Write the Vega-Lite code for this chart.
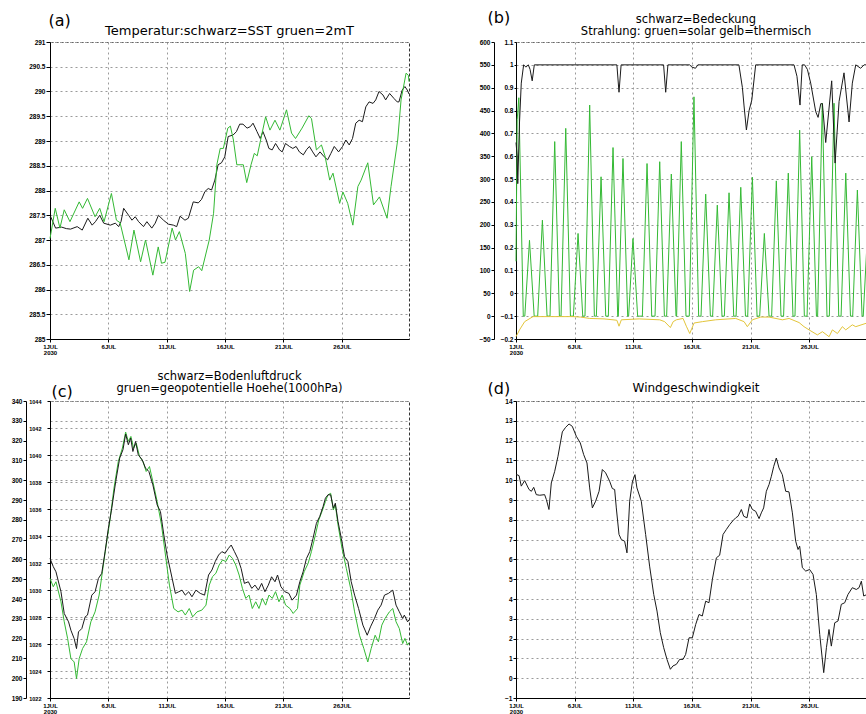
{
"$schema": "https://vega.github.io/schema/vega-lite/v6.json",
"autosize": {"type": "pad"},
"padding": {"left": 10, "top": 8, "right": 0, "bottom": 0},
"background": "white",
"columns": 2,
"bounds": "flush",
"spacing": {"row": 62, "column": 107},
"resolve": {"scale": {"color": "independent"}},
"config": {
  "view": {"stroke": "#333", "strokeDash": [3, 2], "strokeWidth": 1},
  "axis": {"labelFont": "Liberation Sans", "labelFontWeight": "bold", "labelFontSize": 6.5, "labelColor": "#000", "domainColor": "#000", "domainWidth": 1, "tickColor": "#000", "tickSize": 3, "tickWidth": 1, "labelPadding": 1, "gridColor": "#9a9a9a", "gridDash": [2, 3], "gridWidth": 1, "gridOpacity": 1, "titleFont": "DejaVu Sans", "titleFontSize": 16, "titleFontWeight": "normal", "titleColor": "#000", "labelFlush": false, "labelOverlap": false},
  "axisX": {"labelFontSize": 6, "labelLineHeight": 6.5},
  "title": {"font": "DejaVu Sans", "fontWeight": "normal", "color": "#000", "frame": "group", "anchor": "middle", "baseline": "bottom", "offset": 5},
  "line": {"strokeWidth": 1}
},
"datasets": {
"temp": [
{"s":"SST","d":1.0,"v":287.45},{"s":"SST","d":1.06,"v":287.47},{"s":"SST","d":1.48,"v":287.24},{"s":"SST","d":2.0,"v":287.26},{"s":"SST","d":2.4,"v":287.23},{"s":"SST","d":2.76,"v":287.22},{"s":"SST","d":3.33,"v":287.27},{"s":"SST","d":3.76,"v":287.2},{"s":"SST","d":4.24,"v":287.44},{"s":"SST","d":4.61,"v":287.3},{"s":"SST","d":4.89,"v":287.37},{"s":"SST","d":5.26,"v":287.5},{"s":"SST","d":5.6,"v":287.34},{"s":"SST","d":6.17,"v":287.3},{"s":"SST","d":6.6,"v":287.34},{"s":"SST","d":6.88,"v":287.27},{"s":"SST","d":7.08,"v":287.37},{"s":"SST","d":7.31,"v":287.64},{"s":"SST","d":7.73,"v":287.5},{"s":"SST","d":8.02,"v":287.4},{"s":"SST","d":8.3,"v":287.47},{"s":"SST","d":8.59,"v":287.37},{"s":"SST","d":9.01,"v":287.27},{"s":"SST","d":9.3,"v":287.37},{"s":"SST","d":9.72,"v":287.24},{"s":"SST","d":10.01,"v":287.34},{"s":"SST","d":10.29,"v":287.5},{"s":"SST","d":10.72,"v":287.4},{"s":"SST","d":11.14,"v":287.32},{"s":"SST","d":11.57,"v":287.3},{"s":"SST","d":11.85,"v":287.27},{"s":"SST","d":12.14,"v":287.48},{"s":"SST","d":12.56,"v":287.4},{"s":"SST","d":12.85,"v":287.44},{"s":"SST","d":13.27,"v":287.77},{"s":"SST","d":13.7,"v":287.75},{"s":"SST","d":13.98,"v":287.82},{"s":"SST","d":14.27,"v":287.98},{"s":"SST","d":14.55,"v":288.04},{"s":"SST","d":14.84,"v":288.01},{"s":"SST","d":15.12,"v":288.21},{"s":"SST","d":15.4,"v":288.52},{"s":"SST","d":15.69,"v":288.56},{"s":"SST","d":15.97,"v":288.68},{"s":"SST","d":16.26,"v":289.09},{"s":"SST","d":16.68,"v":289.12},{"s":"SST","d":16.97,"v":289.19},{"s":"SST","d":17.25,"v":289.34},{"s":"SST","d":17.53,"v":289.34},{"s":"SST","d":17.88,"v":289.26},{"s":"SST","d":18.16,"v":289.29},{"s":"SST","d":18.39,"v":289.36},{"s":"SST","d":18.73,"v":289.19},{"s":"SST","d":19.01,"v":289.05},{"s":"SST","d":19.24,"v":289.19},{"s":"SST","d":19.52,"v":289.02},{"s":"SST","d":19.75,"v":288.85},{"s":"SST","d":20.03,"v":288.82},{"s":"SST","d":20.32,"v":288.95},{"s":"SST","d":20.66,"v":288.82},{"s":"SST","d":20.89,"v":288.78},{"s":"SST","d":21.17,"v":288.95},{"s":"SST","d":21.51,"v":288.89},{"s":"SST","d":21.8,"v":288.85},{"s":"SST","d":22.08,"v":288.89},{"s":"SST","d":22.36,"v":288.78},{"s":"SST","d":22.7,"v":288.72},{"s":"SST","d":22.99,"v":288.83},{"s":"SST","d":23.22,"v":288.89},{"s":"SST","d":23.5,"v":288.78},{"s":"SST","d":23.78,"v":288.68},{"s":"SST","d":24.13,"v":288.78},{"s":"SST","d":24.49,"v":288.68},{"s":"SST","d":24.78,"v":288.62},{"s":"SST","d":25.06,"v":288.75},{"s":"SST","d":25.35,"v":288.89},{"s":"SST","d":25.72,"v":288.78},{"s":"SST","d":26.06,"v":288.89},{"s":"SST","d":26.34,"v":289.02},{"s":"SST","d":26.63,"v":288.92},{"s":"SST","d":26.91,"v":289.05},{"s":"SST","d":27.19,"v":289.36},{"s":"SST","d":27.48,"v":289.42},{"s":"SST","d":27.76,"v":289.39},{"s":"SST","d":28.05,"v":289.69},{"s":"SST","d":28.33,"v":289.79},{"s":"SST","d":28.67,"v":289.76},{"s":"SST","d":28.9,"v":289.83},{"s":"SST","d":29.18,"v":290.0},{"s":"SST","d":29.52,"v":289.93},{"s":"SST","d":29.75,"v":289.83},{"s":"SST","d":30.09,"v":289.96},{"s":"SST","d":30.46,"v":289.86},{"s":"SST","d":30.74,"v":289.79},{"s":"SST","d":30.89,"v":289.79},{"s":"SST","d":31.17,"v":290.03},{"s":"SST","d":31.4,"v":290.1},{"s":"SST","d":31.6,"v":290.03},{"s":"SST","d":31.75,"v":289.95},
{"s":"2mT","d":1.0,"v":287.03},{"s":"2mT","d":1.45,"v":287.64},{"s":"2mT","d":1.85,"v":287.24},{"s":"2mT","d":2.22,"v":287.61},{"s":"2mT","d":2.71,"v":287.37},{"s":"2mT","d":3.5,"v":287.77},{"s":"2mT","d":3.79,"v":287.64},{"s":"2mT","d":4.21,"v":287.84},{"s":"2mT","d":4.86,"v":287.47},{"s":"2mT","d":5.26,"v":287.64},{"s":"2mT","d":5.63,"v":287.37},{"s":"2mT","d":6.26,"v":287.94},{"s":"2mT","d":6.69,"v":287.4},{"s":"2mT","d":7.0,"v":287.35},{"s":"2mT","d":7.76,"v":286.6},{"s":"2mT","d":8.19,"v":287.2},{"s":"2mT","d":8.76,"v":286.56},{"s":"2mT","d":9.18,"v":287.0},{"s":"2mT","d":9.81,"v":286.29},{"s":"2mT","d":10.27,"v":286.86},{"s":"2mT","d":10.55,"v":286.53},{"s":"2mT","d":10.85,"v":286.55},{"s":"2mT","d":11.46,"v":287.24},{"s":"2mT","d":11.75,"v":287.0},{"s":"2mT","d":12.08,"v":287.17},{"s":"2mT","d":12.59,"v":286.73},{"s":"2mT","d":12.96,"v":285.96},{"s":"2mT","d":13.3,"v":286.39},{"s":"2mT","d":13.73,"v":286.46},{"s":"2mT","d":14.0,"v":286.38},{"s":"2mT","d":14.64,"v":287.0},{"s":"2mT","d":15.01,"v":287.54},{"s":"2mT","d":15.29,"v":288.52},{"s":"2mT","d":15.58,"v":288.85},{"s":"2mT","d":15.85,"v":288.85},{"s":"2mT","d":16.23,"v":289.26},{"s":"2mT","d":16.45,"v":289.3},{"s":"2mT","d":16.71,"v":289.02},{"s":"2mT","d":17.0,"v":288.52},{"s":"2mT","d":17.56,"v":288.52},{"s":"2mT","d":17.85,"v":288.16},{"s":"2mT","d":18.22,"v":288.52},{"s":"2mT","d":18.5,"v":288.75},{"s":"2mT","d":18.75,"v":288.7},{"s":"2mT","d":19.13,"v":289.12},{"s":"2mT","d":19.47,"v":289.49},{"s":"2mT","d":19.84,"v":289.22},{"s":"2mT","d":20.27,"v":289.42},{"s":"2mT","d":20.69,"v":289.22},{"s":"2mT","d":21.26,"v":289.63},{"s":"2mT","d":21.69,"v":289.16},{"s":"2mT","d":22.03,"v":289.05},{"s":"2mT","d":22.59,"v":289.26},{"s":"2mT","d":23.17,"v":289.51},{"s":"2mT","d":23.4,"v":289.45},{"s":"2mT","d":23.82,"v":288.82},{"s":"2mT","d":24.25,"v":288.92},{"s":"2mT","d":24.55,"v":288.7},{"s":"2mT","d":24.96,"v":288.21},{"s":"2mT","d":25.24,"v":288.35},{"s":"2mT","d":25.81,"v":287.74},{"s":"2mT","d":26.09,"v":287.97},{"s":"2mT","d":26.5,"v":287.74},{"s":"2mT","d":26.94,"v":287.3},{"s":"2mT","d":27.37,"v":288.08},{"s":"2mT","d":27.65,"v":288.21},{"s":"2mT","d":28.22,"v":288.56},{"s":"2mT","d":28.71,"v":287.71},{"s":"2mT","d":29.22,"v":287.87},{"s":"2mT","d":29.87,"v":287.44},{"s":"2mT","d":30.21,"v":288.08},{"s":"2mT","d":30.78,"v":289.02},{"s":"2mT","d":31.07,"v":289.83},{"s":"2mT","d":31.5,"v":290.37},{"s":"2mT","d":31.69,"v":290.33},{"s":"2mT","d":31.75,"v":290.2}
],
"cc": [
{"d":1.0,"v":0.66},{"d":1.1,"v":0.6},{"d":1.15,"v":0.48},{"d":1.3,"v":0.75},{"d":1.45,"v":0.92},{"d":1.65,"v":1.0},{"d":1.85,"v":0.99},{"d":2.05,"v":1.0},{"d":2.2,"v":0.98},{"d":2.38,"v":0.93},{"d":2.56,"v":1.0},{"d":9.6,"v":1.0},{"d":9.78,"v":0.88},{"d":9.96,"v":1.0},{"d":13.58,"v":1.0},{"d":13.76,"v":0.88},{"d":13.95,"v":1.0},{"d":15.8,"v":1.0},{"d":16.0,"v":0.99},{"d":16.3,"v":0.985},{"d":16.5,"v":1.0},{"d":20.0,"v":1.0},{"d":20.3,"v":0.9},{"d":20.44,"v":0.82},{"d":20.64,"v":0.715},{"d":20.87,"v":0.8},{"d":21.1,"v":0.846},{"d":21.43,"v":1.0},{"d":24.7,"v":1.0},{"d":24.95,"v":0.95},{"d":25.21,"v":0.824},{"d":25.4,"v":1.0},{"d":25.6,"v":1.0},{"d":25.84,"v":0.98},{"d":26.12,"v":0.92},{"d":26.55,"v":0.795},{"d":26.75,"v":0.77},{"d":26.98,"v":0.83},{"d":27.12,"v":0.83},{"d":27.4,"v":0.66},{"d":27.91,"v":0.93},{"d":28.2,"v":0.57},{"d":28.54,"v":0.84},{"d":28.96,"v":0.965},{"d":29.39,"v":0.75},{"d":29.67,"v":0.92},{"d":29.96,"v":1.0},{"d":30.38,"v":0.985},{"d":30.67,"v":1.0},{"d":30.92,"v":1.0}
],
"rad": [
{"s":"solar","d":1.0,"v":120},{"s":"solar","d":1.1,"v":430},{"s":"solar","d":1.24,"v":478},{"s":"solar","d":1.62,"v":0},{"s":"solar","d":1.75,"v":0},{"s":"solar","d":2.15,"v":166},{"s":"solar","d":2.55,"v":0},{"s":"solar","d":2.85,"v":0},{"s":"solar","d":3.25,"v":210},{"s":"solar","d":3.65,"v":0},{"s":"solar","d":3.9,"v":0},{"s":"solar","d":4.3,"v":382},{"s":"solar","d":4.7,"v":0},{"s":"solar","d":4.84,"v":0},{"s":"solar","d":5.24,"v":411},{"s":"solar","d":5.64,"v":0},{"s":"solar","d":5.89,"v":0},{"s":"solar","d":6.29,"v":181},{"s":"solar","d":6.69,"v":0},{"s":"solar","d":6.88,"v":0},{"s":"solar","d":7.28,"v":462},{"s":"solar","d":7.68,"v":0},{"s":"solar","d":7.85,"v":0},{"s":"solar","d":8.25,"v":305},{"s":"solar","d":8.65,"v":0},{"s":"solar","d":8.87,"v":0},{"s":"solar","d":9.27,"v":369},{"s":"solar","d":9.67,"v":0},{"s":"solar","d":9.72,"v":0},{"s":"solar","d":10.12,"v":345},{"s":"solar","d":10.52,"v":0},{"s":"solar","d":10.6,"v":0},{"s":"solar","d":10.97,"v":170},{"s":"solar","d":11.37,"v":0},{"s":"solar","d":11.77,"v":0},{"s":"solar","d":12.17,"v":334},{"s":"solar","d":12.57,"v":0},{"s":"solar","d":12.85,"v":0},{"s":"solar","d":13.25,"v":338},{"s":"solar","d":13.65,"v":0},{"s":"solar","d":13.84,"v":0},{"s":"solar","d":14.24,"v":311},{"s":"solar","d":14.64,"v":0},{"s":"solar","d":14.69,"v":0},{"s":"solar","d":15.09,"v":382},{"s":"solar","d":15.49,"v":0},{"s":"solar","d":15.77,"v":0},{"s":"solar","d":16.17,"v":480},{"s":"solar","d":16.57,"v":0},{"s":"solar","d":16.77,"v":0},{"s":"solar","d":17.17,"v":267},{"s":"solar","d":17.57,"v":0},{"s":"solar","d":17.76,"v":0},{"s":"solar","d":18.16,"v":243},{"s":"solar","d":18.56,"v":0},{"s":"solar","d":18.76,"v":0},{"s":"solar","d":19.16,"v":270},{"s":"solar","d":19.56,"v":0},{"s":"solar","d":19.76,"v":0},{"s":"solar","d":20.16,"v":282},{"s":"solar","d":20.56,"v":0},{"s":"solar","d":20.75,"v":0},{"s":"solar","d":21.15,"v":304},{"s":"solar","d":21.55,"v":0},{"s":"solar","d":21.77,"v":0},{"s":"solar","d":22.17,"v":181},{"s":"solar","d":22.57,"v":0},{"s":"solar","d":22.79,"v":0},{"s":"solar","d":23.19,"v":296},{"s":"solar","d":23.59,"v":0},{"s":"solar","d":23.81,"v":0},{"s":"solar","d":24.21,"v":313},{"s":"solar","d":24.61,"v":0},{"s":"solar","d":24.78,"v":0},{"s":"solar","d":25.18,"v":407},{"s":"solar","d":25.58,"v":0},{"s":"solar","d":25.81,"v":0},{"s":"solar","d":26.21,"v":349},{"s":"solar","d":26.61,"v":0},{"s":"solar","d":26.71,"v":0},{"s":"solar","d":27.11,"v":466},{"s":"solar","d":27.51,"v":0},{"s":"solar","d":27.71,"v":0},{"s":"solar","d":28.11,"v":466},{"s":"solar","d":28.51,"v":0},{"s":"solar","d":28.71,"v":0},{"s":"solar","d":29.11,"v":313},{"s":"solar","d":29.51,"v":0},{"s":"solar","d":29.7,"v":0},{"s":"solar","d":30.1,"v":276},{"s":"solar","d":30.5,"v":0},{"s":"solar","d":30.6,"v":0},{"s":"solar","d":30.92,"v":160},
{"s":"thermisch","d":1.0,"v":-45},{"s":"thermisch","d":1.3,"v":-30},{"s":"thermisch","d":1.74,"v":-12},{"s":"thermisch","d":2.45,"v":-1},{"s":"thermisch","d":5.86,"v":-1},{"s":"thermisch","d":6.5,"v":-2},{"s":"thermisch","d":7.28,"v":-5},{"s":"thermisch","d":8.5,"v":-6},{"s":"thermisch","d":9.27,"v":-8},{"s":"thermisch","d":9.6,"v":-9},{"s":"thermisch","d":9.78,"v":-22},{"s":"thermisch","d":9.98,"v":-8},{"s":"thermisch","d":11.5,"v":-6},{"s":"thermisch","d":13.25,"v":-8},{"s":"thermisch","d":13.67,"v":-12},{"s":"thermisch","d":14.16,"v":-25},{"s":"thermisch","d":14.4,"v":-12},{"s":"thermisch","d":14.67,"v":-8},{"s":"thermisch","d":15.24,"v":-5},{"s":"thermisch","d":15.52,"v":-22},{"s":"thermisch","d":15.81,"v":-38},{"s":"thermisch","d":16.18,"v":-15},{"s":"thermisch","d":16.89,"v":-12},{"s":"thermisch","d":18.02,"v":-8},{"s":"thermisch","d":19.73,"v":-5},{"s":"thermisch","d":20.44,"v":-12},{"s":"thermisch","d":20.72,"v":-23},{"s":"thermisch","d":21.15,"v":-8},{"s":"thermisch","d":21.86,"v":-2},{"s":"thermisch","d":22.57,"v":-2},{"s":"thermisch","d":23.71,"v":-8},{"s":"thermisch","d":24.28,"v":-5},{"s":"thermisch","d":25.13,"v":-14},{"s":"thermisch","d":25.55,"v":-23},{"s":"thermisch","d":25.98,"v":-30},{"s":"thermisch","d":26.69,"v":-41},{"s":"thermisch","d":27.12,"v":-34},{"s":"thermisch","d":27.69,"v":-45},{"s":"thermisch","d":27.97,"v":-30},{"s":"thermisch","d":28.4,"v":-38},{"s":"thermisch","d":28.82,"v":-23},{"s":"thermisch","d":29.11,"v":-30},{"s":"thermisch","d":29.67,"v":-19},{"s":"thermisch","d":29.96,"v":-23},{"s":"thermisch","d":30.92,"v":-15}
],
"slp": [
{"d":1.0,"v":1032.34},{"d":1.28,"v":1031.73},{"d":1.51,"v":1031.35},{"d":1.94,"v":1029.87},{"d":2.22,"v":1028.26},{"d":2.59,"v":1027.64},{"d":2.79,"v":1027.02},{"d":3.07,"v":1026.4},{"d":3.27,"v":1025.66},{"d":3.44,"v":1026.9},{"d":3.73,"v":1027.15},{"d":4.01,"v":1028.01},{"d":4.21,"v":1028.14},{"d":4.58,"v":1029.62},{"d":4.86,"v":1029.87},{"d":5.15,"v":1030.86},{"d":5.43,"v":1031.23},{"d":5.72,"v":1032.84},{"d":6.0,"v":1034.57},{"d":6.29,"v":1036.06},{"d":6.63,"v":1038.04},{"d":6.97,"v":1039.77},{"d":7.25,"v":1040.39},{"d":7.48,"v":1041.55},{"d":7.71,"v":1040.76},{"d":7.91,"v":1041.25},{"d":8.1,"v":1040.26},{"d":8.33,"v":1041.0},{"d":8.56,"v":1040.02},{"d":8.9,"v":1039.64},{"d":9.18,"v":1039.03},{"d":9.47,"v":1038.78},{"d":9.81,"v":1037.79},{"d":10.18,"v":1036.3},{"d":10.46,"v":1035.81},{"d":10.75,"v":1034.08},{"d":11.03,"v":1032.59},{"d":11.4,"v":1031.11},{"d":11.74,"v":1029.75},{"d":12.03,"v":1029.87},{"d":12.31,"v":1029.99},{"d":12.59,"v":1029.62},{"d":12.88,"v":1029.87},{"d":13.16,"v":1029.5},{"d":13.5,"v":1029.99},{"d":13.87,"v":1029.75},{"d":14.24,"v":1029.62},{"d":14.58,"v":1031.11},{"d":14.87,"v":1031.48},{"d":15.15,"v":1032.1},{"d":15.44,"v":1032.59},{"d":15.72,"v":1032.84},{"d":16.0,"v":1032.72},{"d":16.29,"v":1033.09},{"d":16.52,"v":1033.33},{"d":16.8,"v":1032.84},{"d":17.08,"v":1032.34},{"d":17.37,"v":1031.6},{"d":17.65,"v":1030.49},{"d":17.99,"v":1030.61},{"d":18.28,"v":1030.12},{"d":18.56,"v":1030.36},{"d":18.85,"v":1029.99},{"d":19.13,"v":1030.49},{"d":19.41,"v":1029.87},{"d":19.7,"v":1030.36},{"d":19.98,"v":1030.98},{"d":20.27,"v":1030.61},{"d":20.49,"v":1031.11},{"d":20.78,"v":1030.24},{"d":21.12,"v":1029.87},{"d":21.46,"v":1029.75},{"d":21.74,"v":1029.25},{"d":22.11,"v":1029.62},{"d":22.4,"v":1030.61},{"d":22.68,"v":1031.35},{"d":22.97,"v":1032.34},{"d":23.25,"v":1032.84},{"d":23.53,"v":1033.83},{"d":23.82,"v":1034.94},{"d":24.1,"v":1035.44},{"d":24.39,"v":1036.18},{"d":24.59,"v":1036.8},{"d":24.81,"v":1037.05},{"d":25.04,"v":1037.05},{"d":25.27,"v":1036.06},{"d":25.44,"v":1036.43},{"d":25.67,"v":1035.07},{"d":25.95,"v":1033.83},{"d":26.23,"v":1032.47},{"d":26.52,"v":1032.1},{"d":26.8,"v":1030.61},{"d":27.09,"v":1029.62},{"d":27.43,"v":1028.63},{"d":27.8,"v":1027.4},{"d":28.17,"v":1026.65},{"d":28.45,"v":1027.27},{"d":28.79,"v":1027.89},{"d":29.08,"v":1028.51},{"d":29.36,"v":1028.88},{"d":29.65,"v":1029.62},{"d":29.99,"v":1029.75},{"d":30.36,"v":1029.99},{"d":30.64,"v":1028.88},{"d":30.92,"v":1028.39},{"d":31.21,"v":1027.89},{"d":31.35,"v":1028.14},{"d":31.63,"v":1027.64},{"d":31.75,"v":1027.8}
],
"z1000": [
{"d":1.0,"v":250.4},{"d":1.28,"v":246.2},{"d":1.51,"v":248.7},{"d":1.94,"v":238.6},{"d":2.22,"v":228.5},{"d":2.51,"v":220.0},{"d":2.79,"v":209.9},{"d":3.07,"v":208.2},{"d":3.27,"v":199.8},{"d":3.5,"v":209.9},{"d":3.79,"v":215.0},{"d":4.13,"v":218.4},{"d":4.5,"v":228.5},{"d":4.86,"v":233.5},{"d":5.21,"v":242.0},{"d":5.49,"v":253.8},{"d":5.77,"v":265.6},{"d":6.12,"v":279.1},{"d":6.48,"v":296.0},{"d":6.85,"v":309.5},{"d":7.2,"v":316.2},{"d":7.48,"v":324.3},{"d":7.71,"v":319.6},{"d":7.93,"v":322.1},{"d":8.16,"v":316.2},{"d":8.39,"v":318.7},{"d":8.67,"v":312.0},{"d":8.96,"v":309.5},{"d":9.24,"v":304.4},{"d":9.52,"v":306.9},{"d":9.81,"v":299.3},{"d":10.18,"v":289.2},{"d":10.55,"v":277.4},{"d":10.89,"v":262.2},{"d":11.23,"v":247.0},{"d":11.6,"v":235.2},{"d":11.97,"v":233.5},{"d":12.31,"v":234.4},{"d":12.59,"v":231.9},{"d":12.93,"v":235.2},{"d":13.22,"v":231.0},{"d":13.59,"v":233.5},{"d":14.01,"v":234.4},{"d":14.36,"v":236.9},{"d":14.64,"v":247.0},{"d":14.92,"v":251.3},{"d":15.21,"v":253.0},{"d":15.49,"v":257.2},{"d":15.78,"v":259.7},{"d":16.06,"v":258.9},{"d":16.35,"v":262.2},{"d":16.63,"v":260.5},{"d":16.91,"v":257.2},{"d":17.2,"v":252.1},{"d":17.48,"v":245.4},{"d":17.77,"v":240.3},{"d":18.05,"v":242.0},{"d":18.33,"v":235.2},{"d":18.62,"v":238.6},{"d":18.9,"v":235.2},{"d":19.19,"v":240.3},{"d":19.47,"v":236.9},{"d":19.76,"v":242.0},{"d":20.04,"v":240.3},{"d":20.32,"v":243.7},{"d":20.61,"v":238.6},{"d":20.89,"v":242.0},{"d":21.18,"v":236.9},{"d":21.55,"v":235.2},{"d":21.83,"v":232.7},{"d":22.2,"v":235.2},{"d":22.4,"v":247.0},{"d":22.77,"v":253.8},{"d":23.11,"v":258.0},{"d":23.39,"v":263.9},{"d":23.73,"v":272.3},{"d":24.02,"v":279.9},{"d":24.3,"v":284.2},{"d":24.59,"v":289.2},{"d":24.81,"v":292.6},{"d":25.04,"v":293.4},{"d":25.27,"v":285.0},{"d":25.44,"v":287.5},{"d":25.67,"v":277.4},{"d":26.01,"v":265.6},{"d":26.38,"v":255.5},{"d":26.75,"v":245.4},{"d":27.09,"v":233.5},{"d":27.51,"v":221.7},{"d":27.88,"v":215.0},{"d":28.22,"v":208.2},{"d":28.51,"v":215.0},{"d":28.85,"v":221.7},{"d":29.13,"v":218.4},{"d":29.42,"v":226.8},{"d":29.7,"v":230.2},{"d":30.07,"v":233.5},{"d":30.36,"v":235.2},{"d":30.64,"v":228.5},{"d":30.92,"v":225.1},{"d":31.21,"v":217.5},{"d":31.4,"v":220.1},{"d":31.63,"v":216.7},{"d":31.75,"v":218.0}
],
"wind": [
{"d":1.0,"v":10.3},{"d":1.26,"v":10.23},{"d":1.45,"v":9.7},{"d":1.74,"v":9.98},{"d":2.11,"v":9.53},{"d":2.31,"v":9.44},{"d":2.51,"v":9.64},{"d":2.73,"v":9.27},{"d":3.02,"v":9.24},{"d":3.44,"v":9.27},{"d":3.59,"v":9.02},{"d":3.81,"v":8.52},{"d":4.01,"v":9.86},{"d":4.3,"v":10.45},{"d":4.58,"v":11.21},{"d":4.95,"v":12.44},{"d":5.23,"v":12.67},{"d":5.52,"v":12.84},{"d":5.8,"v":12.72},{"d":6.14,"v":12.22},{"d":6.48,"v":11.88},{"d":6.77,"v":11.29},{"d":7.05,"v":10.87},{"d":7.28,"v":9.61},{"d":7.51,"v":8.6},{"d":7.79,"v":8.94},{"d":8.08,"v":9.44},{"d":8.36,"v":10.54},{"d":8.64,"v":10.37},{"d":8.98,"v":9.95},{"d":9.21,"v":9.58},{"d":9.41,"v":9.53},{"d":9.55,"v":8.6},{"d":9.78,"v":7.26},{"d":9.98,"v":7.0},{"d":10.26,"v":6.92},{"d":10.46,"v":6.33},{"d":10.69,"v":8.94},{"d":10.92,"v":9.91},{"d":11.14,"v":10.28},{"d":11.31,"v":9.61},{"d":11.68,"v":8.94},{"d":12.05,"v":7.26},{"d":12.39,"v":5.66},{"d":12.74,"v":4.23},{"d":13.02,"v":3.39},{"d":13.3,"v":2.3},{"d":13.59,"v":1.54},{"d":13.87,"v":0.95},{"d":14.16,"v":0.45},{"d":14.38,"v":0.62},{"d":14.67,"v":0.7},{"d":14.95,"v":0.95},{"d":15.24,"v":0.95},{"d":15.46,"v":1.2},{"d":15.75,"v":2.04},{"d":16.03,"v":2.04},{"d":16.32,"v":2.72},{"d":16.6,"v":3.22},{"d":16.88,"v":3.14},{"d":17.17,"v":3.89},{"d":17.45,"v":3.81},{"d":17.74,"v":4.99},{"d":18.08,"v":6.08},{"d":18.36,"v":6.21},{"d":18.65,"v":7.26},{"d":18.93,"v":7.51},{"d":19.22,"v":7.76},{"d":19.5,"v":7.96},{"d":19.73,"v":8.1},{"d":19.93,"v":8.18},{"d":20.21,"v":8.52},{"d":20.41,"v":8.18},{"d":20.69,"v":8.1},{"d":20.92,"v":8.8},{"d":21.15,"v":8.52},{"d":21.43,"v":8.43},{"d":21.72,"v":8.06},{"d":21.91,"v":8.35},{"d":22.11,"v":8.6},{"d":22.34,"v":9.44},{"d":22.57,"v":9.78},{"d":22.77,"v":10.2},{"d":22.97,"v":10.7},{"d":23.19,"v":11.12},{"d":23.42,"v":10.62},{"d":23.7,"v":10.28},{"d":23.99,"v":9.44},{"d":24.27,"v":9.41},{"d":24.56,"v":8.35},{"d":24.84,"v":6.92},{"d":25.04,"v":6.5},{"d":25.18,"v":6.67},{"d":25.41,"v":5.58},{"d":25.7,"v":5.41},{"d":26.03,"v":5.49},{"d":26.32,"v":5.24},{"d":26.6,"v":4.23},{"d":26.89,"v":2.21},{"d":27.23,"v":0.28},{"d":27.46,"v":1.54},{"d":27.68,"v":2.46},{"d":27.88,"v":1.62},{"d":28.17,"v":2.8},{"d":28.45,"v":2.89},{"d":28.73,"v":3.73},{"d":29.02,"v":3.81},{"d":29.3,"v":4.23},{"d":29.67,"v":4.57},{"d":30.01,"v":4.48},{"d":30.24,"v":4.57},{"d":30.44,"v":4.9},{"d":30.64,"v":4.15},{"d":30.92,"v":4.23}
]
},
"concat": [
{
  "width": 359, "height": 297,
  "title": {"text": "Temperatur:schwarz=SST gruen=2mT", "fontSize": 13, "dy": 31},
  "data": {"name": "temp"},
  "mark": {"type": "line", "strokeWidth": 1},
  "encoding": {
    "x": {"field": "d", "type": "quantitative", "scale": {"domain": [1, 31.75], "nice": false, "zero": false}, "axis": {"title": null, "values": [1, 6, 11, 16, 21, 26], "labelExpr": "datum.value == 1 ? ['1JUL', '2030'] : datum.value + 'JUL'", "grid": true}},
    "y": {"field": "v", "type": "quantitative", "scale": {"domain": [285, 291], "nice": false, "zero": false}, "axis": {"title": "(a)", "titleAngle": 0, "titleAlign": "left", "titleBaseline": "alphabetic", "titleX": -2, "titleY": -17, "values": [285, 285.5, 286, 286.5, 287, 287.5, 288, 288.5, 289, 289.5, 290, 290.5, 291], "format": "~g", "grid": true, "tickSize": 4}},
    "color": {"field": "s", "type": "nominal", "scale": {"domain": ["SST", "2mT"], "range": ["#1a1a1a", "#34b934"]}, "legend": null}
  }
},
{
  "width": 351, "height": 297,
  "title": {"text": ["schwarz=Bedeckung", "Strahlung: gruen=solar gelb=thermisch"], "fontSize": 11.5, "lineHeight": 12, "dx": 4.5, "dy": 33},
  "layer": [
    {
      "data": {"name": "rad"},
      "mark": {"type": "line", "strokeWidth": 1},
      "encoding": {
        "x": {"field": "d", "type": "quantitative", "scale": {"domain": [1, 30.92], "nice": false, "zero": false}, "axis": {"title": null, "values": [1, 6, 11, 16, 21, 26], "labelExpr": "datum.value == 1 ? ['1JUL', '2030'] : datum.value + 'JUL'", "grid": true}},
        "y": {"field": "v", "type": "quantitative", "scale": {"domain": [-50, 600], "nice": false, "zero": false}, "axis": {"title": null, "orient": "left", "offset": 22, "values": [-50, 0, 50, 100, 150, 200, 250, 300, 350, 400, 450, 500, 550, 600], "grid": false}},
        "color": {"field": "s", "type": "nominal", "scale": {"domain": ["solar", "thermisch"], "range": ["#34b934", "#e3c53a"]}, "legend": null}
      }
    },
    {
      "data": {"name": "cc"},
      "mark": {"type": "line", "strokeWidth": 1, "color": "#1a1a1a"},
      "encoding": {
        "x": {"field": "d", "type": "quantitative", "scale": {"domain": [1, 30.92], "nice": false, "zero": false}, "axis": {"title": null, "values": [1, 6, 11, 16, 21, 26], "labelExpr": "datum.value == 1 ? ['1JUL', '2030'] : datum.value + 'JUL'", "grid": true}},
        "y": {"field": "v", "type": "quantitative", "scale": {"domain": [-0.2, 1.1], "nice": false, "zero": false}, "axis": {"title": "(b)", "orient": "left", "titleAngle": 0, "titleAlign": "left", "titleBaseline": "alphabetic", "titleX": -29, "titleY": -20, "values": [-0.2, -0.1, 0, 0.1, 0.2, 0.3, 0.4, 0.5, 0.6, 0.7, 0.8, 0.9, 1, 1.1], "format": "~g", "grid": true, "tickSize": 2}}
      }
    }
  ],
  "resolve": {"scale": {"y": "independent"}}
},
{
  "width": 359, "height": 297,
  "title": {"text": ["schwarz=Bodenluftdruck", "gruen=geopotentielle Hoehe(1000hPa)"], "fontSize": 11.5, "lineHeight": 12, "dy": 16.5},
  "layer": [
    {
      "data": {"name": "z1000"},
      "mark": {"type": "line", "strokeWidth": 1, "color": "#34b934"},
      "encoding": {
        "x": {"field": "d", "type": "quantitative", "scale": {"domain": [1, 31.75], "nice": false, "zero": false}, "axis": {"title": null, "values": [1, 6, 11, 16, 21, 26], "labelExpr": "datum.value == 1 ? ['1JUL', '2030'] : datum.value + 'JUL'", "grid": true}},
        "y": {"field": "v", "type": "quantitative", "scale": {"domain": [190, 340], "nice": false, "zero": false}, "axis": {"title": null, "orient": "left", "offset": 24, "values": [190, 200, 210, 220, 230, 240, 250, 260, 270, 280, 290, 300, 310, 320, 330, 340], "grid": true}}
      }
    },
    {
      "data": {"name": "slp"},
      "mark": {"type": "line", "strokeWidth": 1, "color": "#1a1a1a"},
      "encoding": {
        "x": {"field": "d", "type": "quantitative", "scale": {"domain": [1, 31.75], "nice": false, "zero": false}, "axis": {"title": null, "values": [1, 6, 11, 16, 21, 26], "labelExpr": "datum.value == 1 ? ['1JUL', '2030'] : datum.value + 'JUL'", "grid": true}},
        "y": {"field": "v", "type": "quantitative", "scale": {"domain": [1022, 1044], "nice": false, "zero": false}, "axis": {"title": "(c)", "orient": "left", "titleAngle": 0, "titleAlign": "left", "titleBaseline": "alphabetic", "titleX": 1, "titleY": -5, "values": [1022, 1024, 1026, 1028, 1030, 1032, 1034, 1036, 1038, 1040, 1042, 1044], "format": "d", "grid": true, "labelFontSize": 5.5, "labelPadding": 6}}
      }
    }
  ],
  "resolve": {"scale": {"y": "independent"}}
},
{
  "width": 351, "height": 297,
  "title": {"text": "Windgeschwindigkeit", "fontSize": 12, "dx": 4.5, "dy": 20},
  "data": {"name": "wind"},
  "mark": {"type": "line", "strokeWidth": 1, "color": "#1a1a1a"},
  "encoding": {
    "x": {"field": "d", "type": "quantitative", "scale": {"domain": [1, 30.92], "nice": false, "zero": false}, "axis": {"title": null, "values": [1, 6, 11, 16, 21, 26], "labelExpr": "datum.value == 1 ? ['1JUL', '2030'] : datum.value + 'JUL'", "grid": true}},
    "y": {"field": "v", "type": "quantitative", "scale": {"domain": [-1, 14], "nice": false, "zero": false}, "axis": {"title": "(d)", "titleAngle": 0, "titleAlign": "left", "titleBaseline": "alphabetic", "titleX": -29, "titleY": -7.6, "values": [-1, 0, 1, 2, 3, 4, 5, 6, 7, 8, 9, 10, 11, 12, 13, 14], "grid": true}}
  }
}
]
}
